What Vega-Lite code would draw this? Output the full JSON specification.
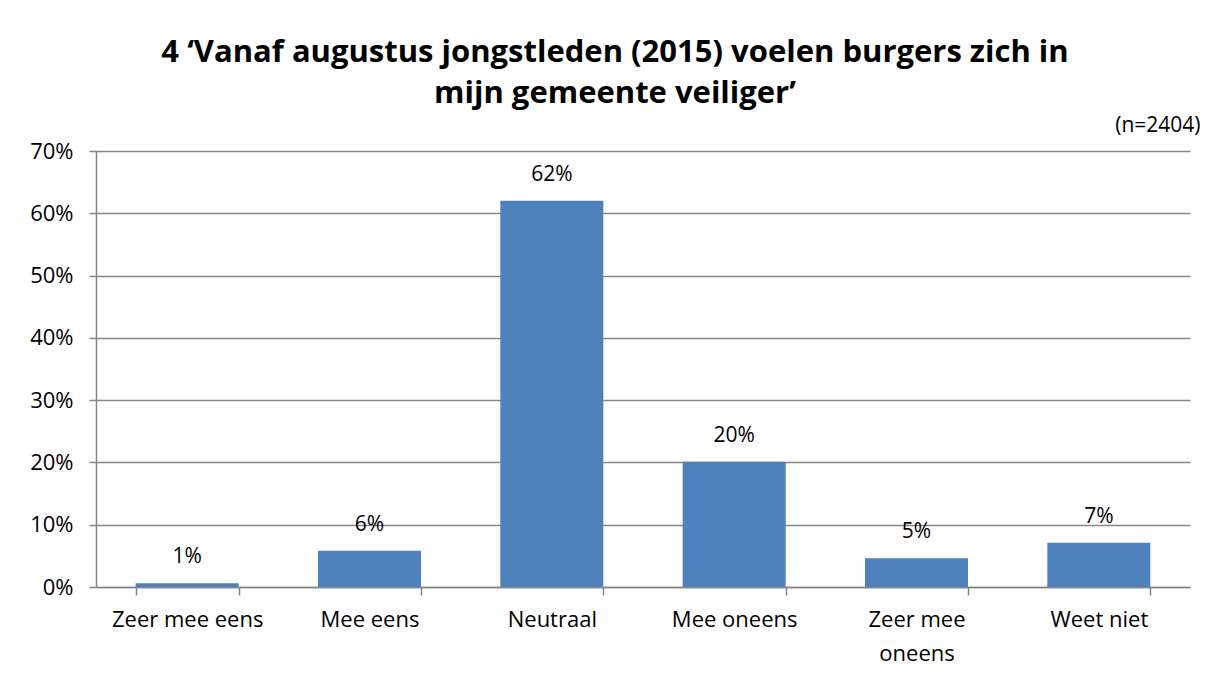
{
  "$schema": "https://vega.github.io/schema/vega-lite/v6.json",
  "width": 1094,
  "height": 436,
  "autosize": {"type": "none"},
  "padding": {"left": 96, "top": 151, "right": 18, "bottom": 93},
  "background": "white",
  "title": {
    "text": ["4 ‘Vanaf augustus jongstleden (2015) voelen burgers zich in", "mijn gemeente veiliger’"],
    "font": "Open Sans",
    "fontSize": 31,
    "fontWeight": "bold",
    "color": "#000000",
    "anchor": "middle",
    "frame": "group",
    "dx": -28,
    "offset": 4,
    "lineHeight": 41
  },
  "data": {
    "values": [
      {"categorie": "Zeer mee eens", "percentage": 0.6, "label": "1%"},
      {"categorie": "Mee eens", "percentage": 5.8, "label": "6%"},
      {"categorie": "Neutraal", "percentage": 62.0, "label": "62%"},
      {"categorie": "Mee oneens", "percentage": 20.1, "label": "20%"},
      {"categorie": "Zeer mee oneens", "percentage": 4.6, "label": "5%"},
      {"categorie": "Weet niet", "percentage": 7.1, "label": "7%"}
    ]
  },
  "encoding": {
    "x": {
      "field": "categorie",
      "type": "nominal",
      "sort": null,
      "scale": {"paddingInner": 0.435, "paddingOuter": 0.2175},
      "axis": {
        "title": null,
        "labelAngle": 0,
        "labelFont": "Open Sans",
        "labelFontSize": 22,
        "labelColor": "#000000",
        "labelPadding": 14,
        "labelLineHeight": 34,
        "labelExpr": "datum.value == 'Zeer mee oneens' ? ['Zeer mee', 'oneens'] : datum.value",
        "tickBand": "extent",
        "tickSize": 8,
        "tickColor": "#868686",
        "domainColor": "#868686",
        "tickWidth": 1.5,
        "domainWidth": 1.5
      }
    },
    "y": {
      "field": "percentage",
      "type": "quantitative",
      "scale": {"domain": [0, 70], "nice": false},
      "axis": {
        "values": [0, 10, 20, 30, 40, 50, 60, 70],
        "labelExpr": "datum.value + '%'",
        "labelFont": "Open Sans",
        "labelFontSize": 22,
        "labelColor": "#000000",
        "labelPadding": 16,
        "tickSize": 7,
        "tickColor": "#868686",
        "domainColor": "#868686",
        "tickWidth": 1.5,
        "domainWidth": 1.5,
        "grid": true,
        "gridColor": "#868686",
        "gridWidth": 1.5,
        "title": "(n=2404)",
        "titleAngle": 0,
        "titleAlign": "right",
        "titleBaseline": "middle",
        "titleX": 1104,
        "titleY": -26,
        "titleFont": "Open Sans",
        "titleFontSize": 21,
        "titleFontWeight": "normal",
        "titleColor": "#000000"
      }
    }
  },
  "layer": [
    {"mark": {"type": "bar", "color": "#4F81BD"}},
    {
      "mark": {"type": "text", "dy": -26, "font": "Open Sans", "fontSize": 21, "color": "#000000", "baseline": "middle"},
      "encoding": {"text": {"field": "label"}}
    }
  ],
  "config": {"view": {"stroke": null}}
}
